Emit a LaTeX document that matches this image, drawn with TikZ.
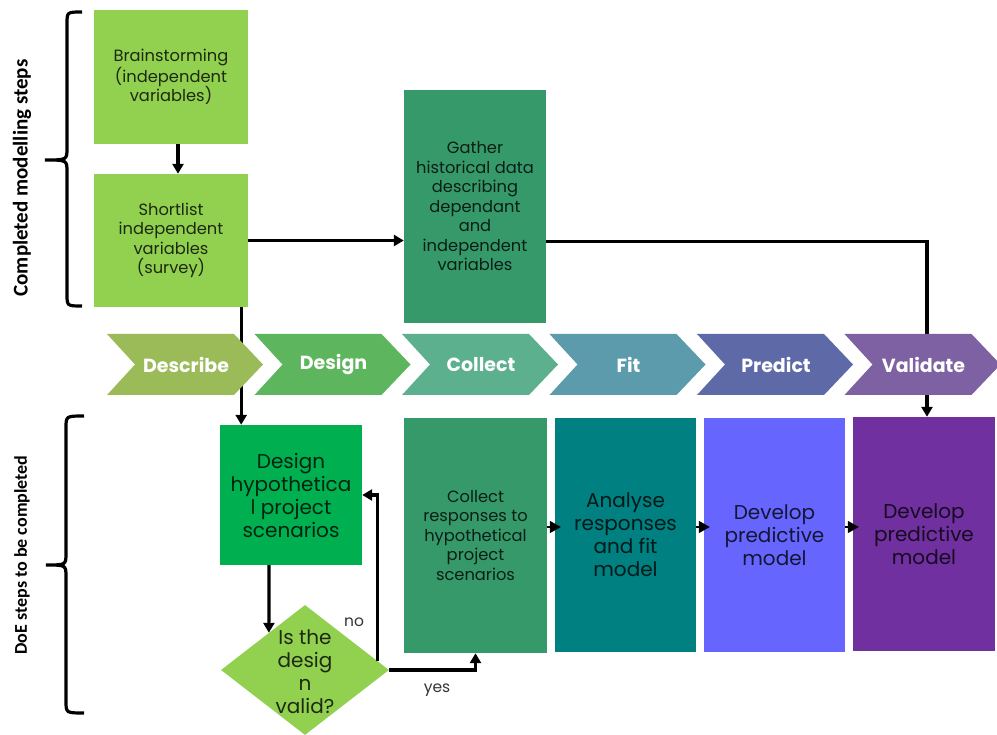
\documentclass[tikz,border=0pt]{standalone}
\usepackage{fontspec}
\setmainfont{Poppins}
\newfontfamily\sidefont{Carlito}
\usetikzlibrary{shapes.geometric,arrows.meta,calc}

% box fills
\definecolor{lightgreen}{HTML}{92D050}
\definecolor{seagreen}{HTML}{36996A}
\definecolor{brightgreen}{HTML}{00B050}
\definecolor{tealbox}{HTML}{008080}
\definecolor{bluebox}{HTML}{6666FF}
\definecolor{purplebox}{HTML}{7030A0}
% process chevrons
\definecolor{chDescribe}{HTML}{9BBB59}
\definecolor{chDesign}{HTML}{5DB55D}
\definecolor{chCollect}{HTML}{5CB08E}
\definecolor{chFit}{HTML}{5B9BAB}
\definecolor{chPredict}{HTML}{5E69A8}
\definecolor{chValidate}{HTML}{7E61A2}

\tikzset{
  box/.style={rectangle, inner sep=0pt, align=center, text=black, text opacity=0.8},
  smalltext/.style={font=\fontsize{16.3}{19.5}\selectfont},
  bigtext/.style={font=\fontsize{20}{23}\selectfont},
  conn/.style={line width=3.2pt, -{Triangle[length=10pt,width=11pt]}},
  stub/.style={line width=1.5pt, -{Triangle[length=11pt,width=12pt]}},
  chevtext/.style={text=white, font=\fontsize{19}{22}\selectfont\bfseries},
  brace/.style={line width=3.2pt},
  sidelabel/.style={rotate=90, font=\sidefont\bfseries},
  answer/.style={text=black!80, font=\fontsize{15.5}{18}\selectfont}
}

\begin{document}
\begin{tikzpicture}[x=1pt,y=-1pt]
\useasboundingbox (0,0) rectangle (997,735);
\begin{scope}
\clip (0,0) rectangle (997,735);

% completed modelling steps
\node[box, smalltext, fill=lightgreen, minimum width=154pt, minimum height=134pt] (brain) at (171,77)
  {Brainstorming\\(independent\\variables)};
\node[box, smalltext, fill=lightgreen, minimum width=154pt, minimum height=133pt] (short) at (171,240.5)
  {Shortlist\\independent\\variables\\(survey)};
\node[box, smalltext, fill=seagreen, minimum width=142pt, minimum height=233pt] (gather) at (475,206.5)
  {Gather\\historical data\\describing\\dependant\\and\\independent\\variables};

% DoE steps
\node[box, bigtext, fill=brightgreen, minimum width=142pt, minimum height=140pt] (dbox) at (291,495)
  {Design\\hypothetica\\l project\\scenarios};
\node[diamond, fill=lightgreen, minimum width=168pt, minimum height=130pt, inner sep=0pt] (dia) at (305,670) {};
\node[box, bigtext] (diatext) at (305,672) {Is the\\desig\\n\\valid?};
\node[box, smalltext, fill=seagreen, minimum width=143pt, minimum height=235pt] (coll) at (475.5,535.5)
  {Collect\\responses to\\hypothetical\\project\\scenarios};
\node[box, bigtext, fill=tealbox, minimum width=141pt, minimum height=234pt] (anal) at (625.5,535)
  {Analyse\\responses\\and fit\\model};
\node[box, bigtext, fill=bluebox, minimum width=141pt, minimum height=234pt] (dev1) at (774.5,535)
  {Develop\\predictive\\model};
\node[box, bigtext, fill=purplebox, minimum width=142pt, minimum height=234pt] (dev2) at (924,534)
  {Develop\\predictive\\model};

% connectors
\draw[conn] ([xshift=7pt]brain.south) -- ([xshift=7pt]short.north);
\draw[conn] (short.east) -- (short.east -| gather.west);
\draw[conn] ([yshift=-1pt]short.east -| gather.east) -| ([xshift=3pt]dev2.north);
\draw[conn] ([xshift=-7pt]short.south east) -- ([xshift=-7pt]short.south east |- dbox.north);
\draw[conn] ([xshift=-22pt]dbox.south) -- ($(dia.west)!0.571!(dia.north)$);
\draw[conn] ($(dia.east)!0.143!(dia.north)$) |- (dbox.east);
\draw[conn] (dia.east) -| (coll.south);
\draw[stub] ([yshift=8.5pt]coll.east) -- ([yshift=8pt,xshift=6pt]anal.west);
\draw[stub] ([yshift=8pt]anal.east) -- ([yshift=8pt,xshift=6pt]dev1.west);
\draw[stub] ([yshift=8pt]dev1.east) -- ([yshift=7pt,xshift=6pt]dev2.west);
\node[answer] (nolabel) at (354,622) {no};
\node[answer] (yeslabel) at (437,690) {yes};

% process chevrons, drawn over the connectors that pass beneath them
\foreach \i/\c/\t/\n in {0/chDescribe/Describe/describe, 1/chDesign/Design/design,
                         2/chCollect/Collect/collect, 3/chFit/Fit/fit,
                         4/chPredict/Predict/predict, 5/chValidate/Validate/validate} {
  \pgfmathsetmacro\L{107+147.5*\i}
  \fill[\c] (\L,334) -- (\L+127,334) -- (\L+156,364.5) -- (\L+127,395) -- (\L,395) -- (\L+28,364.5) -- cycle;
  \node[chevtext] (\n) at (\L+79,364.5) {\t};
}

% side braces and their labels
\draw[brace] (82,12) .. controls (67,12) .. (67,24) -- (67,148)
  .. controls (67,160) .. (45,160) .. controls (67,160) .. (67,172)
  -- (67,294) .. controls (67,306) .. (82,306);
\node[sidelabel, font=\sidefont\bfseries\fontsize{21}{24}\selectfont] (toplabel) at (22,178) {Completed modelling steps};

\draw[brace] (84,416) .. controls (66,416) .. (66,428) -- (66,553)
  .. controls (66,565) .. (46,565) .. controls (66,565) .. (66,577)
  -- (66,701) .. controls (66,713) .. (84,713);
\node[sidelabel, font=\sidefont\bfseries\fontsize{18}{21}\selectfont] (bottomlabel) at (22,555) {DoE steps to be completed};
\end{scope}
\end{tikzpicture}
\end{document}
